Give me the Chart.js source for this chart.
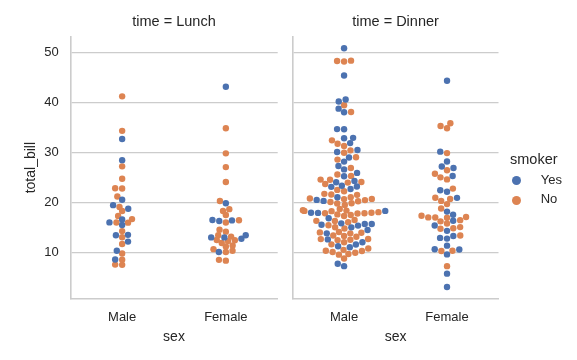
<!DOCTYPE html>
<html>
<head>
<meta charset="utf-8">
<script src="https://cdn.jsdelivr.net/npm/chart.js@4.4.1/dist/chart.umd.min.js"></script>
<style>
html,body{margin:0;padding:0;background:#fff;}
#wrap{position:relative;width:577px;height:360px;overflow:hidden;font-family:"Liberation Sans",Arial,sans-serif;color:#262626;}
canvas{position:absolute;top:0;}
#cA{left:0;}
#cB{left:285px;}
.leg{position:absolute;white-space:nowrap;line-height:1;}
.dot{position:absolute;width:9.5px;height:9.5px;border-radius:50%;}
</style>
</head>
<body>
<div id="wrap">
  <canvas id="cA" width="285" height="360"></canvas>
  <canvas id="cB" width="292" height="360"></canvas>
  <div class="leg" style="left:510px;top:151.7px;font-size:14.5px;">smoker</div>
  <div class="dot" style="left:511.8px;top:175.8px;background:#4C72B0;"></div>
  <div class="leg" style="left:540.7px;top:173.3px;font-size:13px;">Yes</div>
  <div class="dot" style="left:511.8px;top:195.8px;background:#DD8452;"></div>
  <div class="leg" style="left:540.7px;top:192.3px;font-size:13px;">No</div>
</div>
<script>
// ---- data (tips dataset: total_bill by time / sex / smoker) ----
const sexes = ['Male', 'Female'];
const smokers = ['Yes', 'No'];
const yTickValues = [10, 20, 30, 40, 50];

const lunchMaleYes = [19.44, 32.68, 16.00, 28.44, 15.48, 16.58, 10.34, 13.51, 18.71, 20.53, 12.16, 8.58, 13.42];
const lunchMaleNo = [27.20, 22.76, 17.29, 16.66, 15.98, 13.03, 18.28, 24.71, 21.16, 11.69, 14.26, 15.95, 8.52, 22.82, 19.08, 34.30, 41.19, 9.78, 7.51, 7.56];
const lunchFemaleYes = [19.81, 43.11, 13.00, 12.74, 13.00, 16.40, 16.47, 13.42, 16.27, 10.09];
const lunchFemaleNo = [10.07, 34.83, 10.65, 12.43, 24.08, 13.42, 12.48, 29.80, 14.52, 11.38, 20.27, 11.17, 12.26, 18.26, 8.51, 10.33, 14.15, 13.16, 17.47, 27.05, 16.43, 8.35, 18.64, 11.87, 15.98];

const dinnerMaleYes = [38.01, 11.24, 20.29, 13.81, 11.02, 18.29, 15.01, 17.92, 28.97, 40.17, 27.28, 12.03, 21.01, 15.36, 20.49, 25.21, 50.81, 15.81, 7.25, 31.85, 16.82, 32.90, 17.89, 14.48, 34.63, 34.65, 23.33, 45.35, 23.17, 40.55, 30.46, 23.10, 15.69, 26.59, 38.73, 24.27, 30.06, 25.89, 28.15, 11.59, 7.74, 24.01, 15.69, 15.53, 12.60, 32.83, 22.67];
const dinnerMaleNo = [10.34, 21.01, 23.68, 25.29, 8.77, 26.88, 15.04, 14.78, 10.27, 15.42, 18.43, 21.58, 16.29, 20.65, 17.92, 39.42, 19.82, 17.81, 13.37, 12.69, 21.70, 9.55, 18.35, 17.78, 24.06, 16.31, 18.69, 31.27, 16.04, 17.46, 13.94, 9.68, 30.40, 18.29, 22.23, 32.40, 28.55, 18.04, 12.54, 9.94, 25.56, 19.49, 48.27, 17.59, 20.08, 20.23, 12.02, 10.51, 22.49, 12.46, 18.24, 14.00, 38.07, 23.95, 29.93, 14.07, 13.13, 17.26, 24.55, 19.77, 48.17, 16.49, 21.50, 12.66, 13.81, 24.52, 20.76, 31.71, 20.69, 48.33, 20.45, 13.28, 11.61, 10.77, 10.07, 29.03, 17.82];
const dinnerFemaleYes = [3.07, 26.86, 25.28, 5.75, 16.32, 11.35, 15.38, 44.30, 22.42, 14.31, 17.51, 10.59, 10.63, 9.60, 20.90, 18.15, 12.76, 13.27, 28.17, 12.90, 30.14, 22.12, 27.18];
const dinnerFemaleNo = [16.99, 24.59, 35.26, 14.83, 10.33, 16.97, 20.29, 15.77, 19.65, 15.06, 20.69, 16.93, 10.29, 34.81, 26.41, 16.45, 17.07, 14.73, 22.75, 20.92, 7.25, 25.71, 17.31, 29.85, 25.00, 13.39, 16.21, 35.83, 18.78];

// ---- styling ----
const FONT = "'Liberation Sans', Arial, sans-serif";
const TEXT = '#262626';
const GRID = '#cccccc';
const COLORS = { Yes: '#4C72B0', No: '#DD8452' };
const R = 3.2;          // drawn marker radius (px)
const SWARM_DX = 6.67;  // horizontal collision diameter (px)
const SWARM_DY = 5.8;   // vertical collision diameter (px) at the final y scale

const lunchVals = [].concat(lunchMaleYes, lunchMaleNo, lunchFemaleYes, lunchFemaleNo);
const dinnerVals = [].concat(dinnerMaleYes, dinnerMaleNo, dinnerFemaleYes, dinnerFemaleNo);
const allVals = lunchVals.concat(dinnerVals);
const span = a => Math.max(...a) - Math.min(...a);
const vMin = Math.min(...allVals), vMax = Math.max(...allVals);
const yMin = vMin - 0.05 * (vMax - vMin), yMax = vMax + 0.05 * (vMax - vMin);

Chart.defaults.font.family = FONT;
Chart.defaults.color = TEXT;

function makeChart(id, title, groups, showY, yWidth, padRight, dyScale) {
  const datasets = smokers.map(s => ({
    label: s,
    data: [],
    pointBackgroundColor: COLORS[s],
    backgroundColor: COLORS[s],
    pointRadius: R,
    pointHoverRadius: R,
    pointBorderWidth: 0,
    showLine: false
  }));
  groups.forEach((g, ci) => {
    smokers.forEach((s, si) => {
      g[s].forEach(v => datasets[si].data.push({ x: ci, y: v }));
    });
  });
  const chart = new Chart(document.getElementById(id), {
    type: 'scatter',
    data: { datasets },
    options: {
      responsive: false,
      animation: false,
      events: [],
      layout: { padding: { left: 0, right: padRight, top: 0, bottom: 0 } },
      plugins: {
        legend: { display: false },
        tooltip: { enabled: false },
        title: {
          display: true, text: title, fullSize: false,
          font: { size: 14.5, weight: 'normal', family: FONT }, color: TEXT,
          padding: { top: 13, bottom: 5.9 }
        }
      },
      scales: {
        x: {
          type: 'linear', min: -0.5, max: 1.5,
          afterBuildTicks: ax => { ax.ticks = sexes.map((s, i) => ({ value: i })); },
          ticks: { callback: v => sexes[v], font: { size: 13 }, color: TEXT, padding: 11, maxRotation: 0, autoSkip: false },
          grid: { display: false, drawTicks: false },
          border: { display: true, color: GRID, width: 1.6 },
          title: { display: true, text: 'sex', font: { size: 14 }, color: TEXT, padding: { top: 0, bottom: 14.8 } },
          afterFit: ax => { ax.height = 61; }
        },
        y: {
          type: 'linear', min: yMin, max: yMax,
          afterBuildTicks: ax => { ax.ticks = yTickValues.map(v => ({ value: v })); },
          ticks: { display: showY, font: { size: 13 }, color: TEXT, padding: 11.6 },
          grid: { color: GRID, lineWidth: 1.2, drawTicks: false },
          border: { display: true, color: GRID, width: 1.6 },
          title: { display: showY, text: 'total_bill', font: { size: 14 }, color: TEXT, padding: { top: 22.9, bottom: 0 } },
          afterFit: ax => { ax.width = yWidth; }
        }
      }
    }
  });
  swarm(chart, groups, SWARM_DX, SWARM_DY * dyScale);
  return chart;
}

// seaborn-style beeswarm layout, computed in pixel space from the chart's own scales
function swarm(chart, groups, DX, DY) {
  const xs = chart.scales.x, ys = chart.scales.y;
  const out = { Yes: [], No: [] };
  const overlaps = (ax, au, b) => {
    const nx = (ax - b.x) / DX, ny = (au - b.u) / DY;
    return nx * nx + ny * ny < 1 - 1e-9;
  };
  groups.forEach((g, ci) => {
    const cx = xs.getPixelForValue(ci);
    const items = [];
    ['No', 'Yes'].forEach(h => g[h].forEach(v => items.push({ h, v, u: -ys.getPixelForValue(v) })));
    items.sort((a, b) => a.u - b.u);
    const placed = [];
    items.forEach((it, i) => {
      if (i === 0) { it.px = cx; placed.push({ x: cx, u: it.u }); return; }
      let nb = [];
      for (let j = placed.length - 1; j >= 0; j--) {
        if (it.u - placed[j].u < DY) nb.push(placed[j]); else break;
      }
      nb = nb.reverse();
      const cands = [{ x: cx }];
      let leftFirst = true;
      for (const n of nb) {
        const t = (it.u - n.u) / DY;
        const dx = Math.sqrt(Math.max(1 - t * t, 0)) * DX * 1.05;
        if (leftFirst) cands.push({ x: n.x - dx }, { x: n.x + dx });
        else cands.push({ x: n.x + dx }, { x: n.x - dx });
        leftFirst = !leftFirst;
      }
      cands.forEach((c, k) => { c.o = Math.abs(c.x - cx); c.k = k; });
      cands.sort((a, b) => (a.o - b.o) || (a.k - b.k));
      let chosen = cands[0];
      if (nb.length) {
        for (const c of cands) {
          if (!nb.some(n => overlaps(c.x, it.u, n))) { chosen = c; break; }
        }
      }
      it.px = chosen.x;
      placed.push({ x: chosen.x, u: it.u });
    });
    items.forEach(it => {
      let xv = xs.getValueForPixel(it.px);
      xv = Math.max(ci - 0.4, Math.min(ci + 0.4, xv));
      out[it.h].push({ x: xv, y: it.v });
    });
  });
  chart.data.datasets.forEach(ds => { ds.data = out[ds.label]; });
  chart.update('none');
}

// The Lunch facet is swarmed against its own value range, the Dinner facet against the full range
makeChart('cA', 'time = Lunch',
  [{ Yes: lunchMaleYes, No: lunchMaleNo }, { Yes: lunchFemaleYes, No: lunchFemaleNo }],
  true, 70.3, 7.3, span(lunchVals) / span(allVals));
makeChart('cB', 'time = Dinner',
  [{ Yes: dinnerMaleYes, No: dinnerMaleNo }, { Yes: dinnerFemaleYes, No: dinnerFemaleNo }],
  false, 7.6, 78.5, 1);
</script>
</body>
</html>
